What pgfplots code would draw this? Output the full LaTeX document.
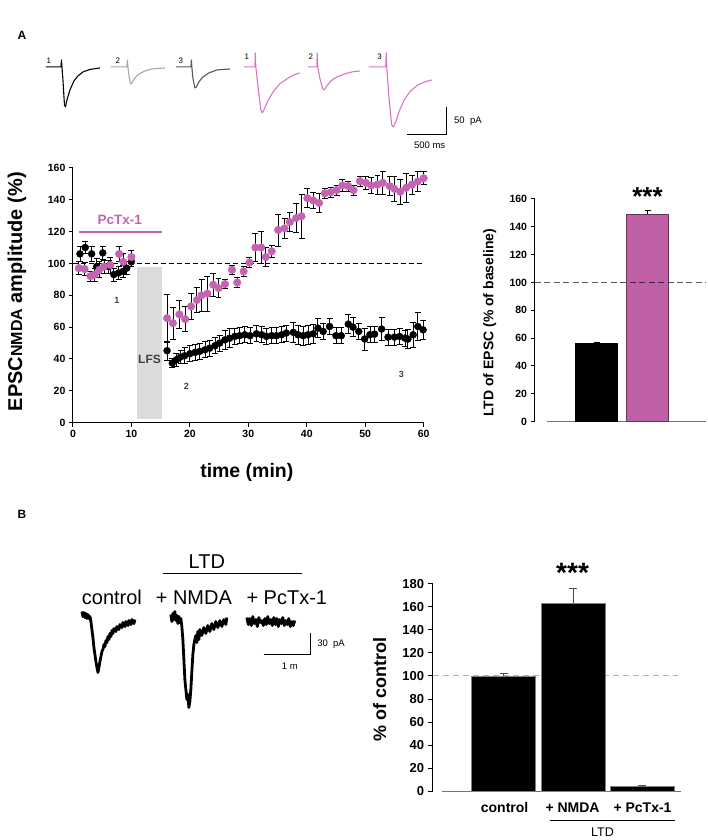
\documentclass[border=0pt]{standalone}
\usepackage{pgfplots}
\pgfplotsset{compat=1.18}
\usepackage{pgfplotstable}
\usepackage{fontspec}
\setmainfont{Liberation Sans}
\definecolor{pk}{RGB}{197,98,178}
\definecolor{pkbar}{RGB}{191,96,166}
\definecolor{pktr}{RGB}{214,118,196}

\pgfplotstableread{
t v e
1.2 106 5
2.1 110 4
3.2 106 5
4.05 98 5
5.1 106.6 4
6.1 98 4
7.0 93 4
7.8 94 4
8.6 95 4
9.2 97 4
10 101 3
16.1 45.2 6
17.0 37.4 3
17.7 39.5 4
18.4 41.2 4
19.1 42 5
20 43.3 5
20.9 44.1 5
21.7 44.8 5
22.6 45.8 5
23.4 46.8 5
24.3 48.3 5
25.1 50 5
26 52 6
26.8 53 6
27.7 54.2 5
28.5 54.6 5
29.4 55.2 5
30.3 54.6 5
31.4 55.8 5
32.3 55.2 5
33.1 54.2 5
34 54.6 5
34.8 54.6 5
35.7 55.2 5
36.5 56.3 5
37.7 56.7 6
38.5 55.2 6
39.4 54.6 6
40.2 55.2 6
41.1 55.8 6
41.9 59.4 6
42.8 57.3 5
43.9 60.4 5
45 54.6 5
45.9 54.6 5
47.1 61.9 6
47.9 60 6
48.9 57.3 5
49.9 52.5 7
50.8 55.2 5
51.6 55.6 5
52.8 58.8 7
53.9 53.7 5
55 53.7 5
55.9 54.1 5
56.8 53.1 5
57.3 52.5 6
58.2 55.2 8
59 60.4 9
59.9 58.3 6
}\blackdata

\pgfplotstableread{
t v e
1.0 97 4
2.0 96.5 4
3.0 92 3
3.7 93 4
4.5 96 5
5.3 98 4
6.4 99 5
7.9 106 5
8.6 101 5
10 104 4
16.1 65.6 15
17.1 62.5 10
18.2 68 9
19.2 65 8
20.2 73 8
21.2 77 8
22 80 10
23 81 11
24 86.6 7
24.9 84.5 6
26 87 3
27.2 96 3
28.1 88 3
29.2 95 3
30.2 100.6 3
31.2 110 9
32.2 110 10
33 104 6
34 107.6 4
35.1 121 10
36.2 122 6
37.1 126 6
38.2 128.5 9
39.1 129.6 14
40.1 141 6
41.1 139.5 5
42.1 138 6
43.1 144 3
44.1 144.7 3
45.1 146 3
46.1 149 4
47.1 148.5 3
48 146 3
49.1 151.6 3
50.1 150.6 4
51 149 5
52.1 149.5 6
53 150.6 7
54.2 148.5 6
55 146.8 8
56 145 8
57 147.5 9
58 149.5 6
59 151.5 6
60 153.5 4
}\pinkdata

\begin{document}
\begin{tikzpicture}

% ---------- overlay axis in pixel coordinates (traces, labels) ----------
\begin{axis}[at={(0pt,0pt)}, anchor=south west, scale only axis, width=708pt, height=840pt,
  xmin=0, xmax=708, ymin=0, ymax=840, y dir=reverse, hide axis, clip=false]
% Panel A traces
\addplot[black, line width=1.1pt, line join=round] coordinates {(46,67) (61,67) (61.5,60) (62,67) (63,80) (64.5,105) (65.5,107) (67,100) (70,90) (74,81) (78,76) (83,72) (90,69.5) (100,68)};
\addplot[black!35, line width=1.1pt, line join=round] coordinates {(111,67) (127,67) (127.5,60) (128,67) (129,75) (130.5,84) (132,83) (135,78) (139,74) (145,71) (152,69) (165,68)};
\addplot[black!65, line width=1.1pt, line join=round] coordinates {(176,67) (191,67) (191.5,60) (192,67) (193,78) (195,88) (196.5,87) (199,82) (203,77) (209,73) (217,70) (230,69)};
\addplot[pktr, line width=1.1pt, line join=round] coordinates {(244,67) (255,67) (255.5,53) (256,67) (258,85) (261,110) (262.5,113) (265,108) (269,99) (274,91) (280,84) (287,79) (294,75) (300,73)};
\addplot[pktr, line width=1.1pt, line join=round] coordinates {(308,67) (317,67) (317.5,53) (318,67) (320,78) (323,89) (324.5,90) (327,86) (331,81) (337,77) (345,74) (352,72) (360,71)};
\addplot[pktr, line width=1.1pt, line join=round] coordinates {(369,67) (386,67) (386.5,53) (387,67) (389,95) (392,125) (393.5,127) (396,122) (400,110) (405,99) (411,91) (418,85) (425,82) (432,80)};
% scale bar A
\addplot[black, line width=1.1pt] coordinates {(407,135) (447,135) (447,107)};
% Panel B traces
\addplot[black, line width=2.8pt, line join=round] coordinates {(82,612)(83,617)(84,613)(85,618)(86,614)(87,619)(88,615)(89,619)(90,617)(91,622)(92,630)(93,638)(94,648)(95,655)(96,662)(97,668)(98,673)(99,668)(100,662)(101,657)(102,652)(103,650)(104,645)(105,647)(106,641)(107,643)(108,637)(109,640)(110,634)(111,637)(112,631)(113,634)(114,629)(116,632)(117,627)(119,630)(120,625)(122,628)(123,623)(125,627)(126,622)(128,626)(129,621)(131,625)(132,620)(134,624)(135,620)};
\addplot[black, line width=2.8pt, line join=round] coordinates {(171,615)(172,622)(173,614)(174,620)(175,612)(176,621)(177,616)(178,624)(179,617)(180,623)(181,619)(182,627)(183,640)(184,660)(185,680)(186,690)(187,700)(188,695)(189,708)(190,702)(191,690)(192,672)(193,655)(194,645)(195,640)(196,636)(197,643)(198,632)(199,640)(200,630)(202,636)(204,628)(206,634)(208,626)(210,632)(212,624)(214,630)(216,622)(218,628)(220,621)(222,627)(224,620)(226,625)(227,618)};
\addplot[black, line width=2.8pt, line join=round] coordinates {(247,618)(248.5,625)(250,619)(251.5,626)(253,617)(254.5,624)(256,620)(257.5,627)(259,618)(260.5,623)(262,621)(263.5,626)(265,619)(266.5,625)(268,617)(269.5,624)(271,620)(272.5,626)(274,618)(275.5,625)(277,619)(278.5,627)(280,620)(281.5,624)(283,618)(284.5,626)(286,621)(287.5,625)(289,619)(290.5,627)(292,622)(293.5,626)(295,621)};
% scale bar B
\addplot[black, line width=1.1pt] coordinates {(264,655) (311,655) (311,633)};
% LTD lines
\addplot[black, line width=1.1pt] coordinates {(163,574) (302,574)};
\addplot[black, line width=1.1pt] coordinates {(550,821) (675,821)};

% labels
\node[font=\bfseries\fontsize{12}{14}\selectfont] at (axis cs:22,35) {A};
\node[font=\bfseries\fontsize{12}{14}\selectfont] at (axis cs:22,515) {B};
\node[font=\fontsize{8}{9}\selectfont] at (axis cs:49,61) {1};
\node[font=\fontsize{8}{9}\selectfont] at (axis cs:118,61) {2};
\node[font=\fontsize{8}{9}\selectfont] at (axis cs:181,61) {3};
\node[font=\fontsize{8}{9}\selectfont] at (axis cs:247,57) {1};
\node[font=\fontsize{8}{9}\selectfont] at (axis cs:311,57) {2};
\node[font=\fontsize{8}{9}\selectfont] at (axis cs:380,57) {3};
\node[font=\fontsize{9.5}{11}\selectfont, anchor=west] at (axis cs:451,121) {50\ \ pA};
\node[font=\fontsize{9.5}{11}\selectfont] at (axis cs:430,145) {500 ms};
\node[font=\bfseries\fontsize{20}{22}\selectfont, rotate=90] at (axis cs:17,292) {EPSC{\fontsize{16}{18}\selectfont NMDA} amplitude (\%)};
\node[font=\bfseries\fontsize{19.5}{22}\selectfont] at (axis cs:247,473) {time (min)};
\node[font=\bfseries\fontsize{14}{16}\selectfont, rotate=90] at (axis cs:490,323) {LTD of EPSC (\% of baseline)};
\node[font=\bfseries\fontsize{26}{28}\selectfont] at (axis cs:648,197) {***};
% Panel B labels
\node[font=\fontsize{20}{22}\selectfont] at (axis cs:112,598) {control};
\node[font=\fontsize{20}{22}\selectfont] at (axis cs:194,598) {+ NMDA};
\node[font=\fontsize{20}{22}\selectfont] at (axis cs:287,598) {+ PcTx-1};
\node[font=\fontsize{20}{22}\selectfont] at (axis cs:207,562) {LTD};
\node[font=\fontsize{9.5}{11}\selectfont, anchor=west] at (axis cs:314,645) {30\ \ pA};
\node[font=\fontsize{9.5}{11}\selectfont] at (axis cs:290,667) {1 m};
\node[font=\bfseries\fontsize{18}{20}\selectfont, rotate=90] at (axis cs:380,690) {\% of control};
\node[font=\bfseries\fontsize{28}{30}\selectfont] at (axis cs:573,573) {***};
\node[font=\bfseries\fontsize{14}{16}\selectfont] at (axis cs:505,808) {control};
\node[font=\bfseries\fontsize{14}{16}\selectfont] at (axis cs:573,808) {+ NMDA};
\node[font=\bfseries\fontsize{14}{16}\selectfont] at (axis cs:643,808) {+ PcTx-1};
\node[font=\fontsize{12.5}{14}\selectfont] at (axis cs:603,833) {LTD};
\end{axis}

% ---------- time course ----------
\begin{axis}[at={(73pt,417pt)}, anchor=south west, scale only axis, width=351pt, height=255pt,
  xmin=0, xmax=60, ymin=0, ymax=160, axis lines=left, axis line style={-, line width=1.1pt},
  tick align=outside, major tick length=4pt, tick style={line width=1pt, black},
  xtick={0,10,...,60}, ytick={0,20,...,160},
  /pgf/number format/assume math mode=true,
  ticklabel style={font=\bfseries\fontsize{10.5}{12}\selectfont},
  clip=false]
\fill[black!14] (axis cs:11,2.5) rectangle (axis cs:15.2,98);
\draw[draw=pk, line width=2pt] (axis cs:1,120) -- (axis cs:15.2,120);
\draw[black, line width=0.8pt, dash pattern=on 5pt off 3pt] (axis cs:0,100) -- (axis cs:60,100);
\node[pk, font=\bfseries\fontsize{13.5}{15}\selectfont] at (axis cs:8,127) {PcTx-1};
\node[black!75, font=\bfseries\fontsize{12}{14}\selectfont] at (axis cs:13.1,40) {LFS};
\node[black!75, font=\bfseries\fontsize{9}{10}\selectfont] at (axis cs:7.5,77) {1};
\node[black!75, font=\bfseries\fontsize{9}{10}\selectfont] at (axis cs:19.4,23) {2};
\node[black!75, font=\bfseries\fontsize{9}{10}\selectfont] at (axis cs:56.2,30) {3};
\addplot[only marks, mark=*, mark size=3.5pt, black, mark options={fill=black},
  error bars/.cd, y dir=both, y explicit,
  error bar style={line width=0.8pt, black},
  error mark options={rotate=90, mark size=3pt, line width=0.8pt, black}]
  table[x=t, y=v, y error=e] {\blackdata};
\addplot[only marks, mark=*, mark size=3.8pt, pk, mark options={fill=pk, draw=pk},
  error bars/.cd, y dir=both, y explicit,
  error bar style={line width=0.8pt, black},
  error mark options={rotate=90, mark size=3pt, line width=0.8pt, black}]
  table[x=t, y=v, y error=e] {\pinkdata};
\end{axis}

% ---------- bar chart A ----------
\begin{axis}[at={(535pt,418pt)}, anchor=south west, scale only axis, width=172pt, height=223pt,
  xmin=535, xmax=707, ymin=0, ymax=160, axis y line=left, axis x line=none,
  axis line style={-, line width=1pt},
  tick align=outside, major tick length=4pt, tick style={line width=1pt, black},
  ytick={0,20,...,160}, xtick=\empty,
  /pgf/number format/assume math mode=true,
  yticklabel style={font=\bfseries\fontsize{10.5}{12}\selectfont},
  clip=false]
\draw[black!55, line width=1.2pt] (axis cs:547,0) -- (axis cs:707,0);
\addplot[ybar, bar width=42pt, bar shift=0pt, fill=black, draw=black,
  error bars/.cd, y dir=plus, y explicit, error bar style={line width=0.8pt, black},
  error mark options={rotate=90, mark size=3pt, line width=0.8pt, black}]
  coordinates {(597,56) +- (0,1)};
\addplot[ybar, bar width=42pt, bar shift=0pt, fill=pkbar, draw=pkbar!55!black, line width=0.8pt,
  error bars/.cd, y dir=plus, y explicit, error bar style={line width=0.8pt, black},
  error mark options={rotate=90, mark size=3pt, line width=0.8pt, black}]
  coordinates {(648,149) +- (0,3)};
\draw[black, opacity=0.65, line width=0.8pt, dash pattern=on 6pt off 3.5pt] (axis cs:535,100) -- (axis cs:707,100);
\end{axis}

% ---------- bar chart B ----------
\begin{axis}[at={(433pt,48pt)}, anchor=south west, scale only axis, width=249pt, height=208pt,
  xmin=433, xmax=682, ymin=0, ymax=180, axis y line=left, axis x line=none,
  axis line style={-, line width=0.9pt},
  tick align=outside, major tick length=5pt, tick style={line width=0.9pt, black},
  ytick={0,20,...,180}, xtick=\empty,
  /pgf/number format/assume math mode=true,
  yticklabel style={font=\bfseries\fontsize{13}{15}\selectfont},
  clip=false]
\draw[black!30, line width=0.9pt, dash pattern=on 6pt off 4pt] (axis cs:433,100) -- (axis cs:682,100);
\draw[black!55, line width=1.1pt] (axis cs:442,0) -- (axis cs:682,0);
\addplot[ybar, bar width=64pt, bar shift=0pt, fill=black, draw=black!50, line width=0.6pt,
  error bars/.cd, y dir=plus, y explicit, error bar style={line width=0.8pt, black!70},
  error mark options={rotate=90, mark size=4pt, line width=0.8pt, black!70}]
  coordinates {(504,100) +- (0,2)};
\addplot[ybar, bar width=64pt, bar shift=0pt, fill=black, draw=black!50, line width=0.6pt,
  error bars/.cd, y dir=plus, y explicit, error bar style={line width=0.8pt, black!70},
  error mark options={rotate=90, mark size=4pt, line width=0.8pt, black!70}]
  coordinates {(573.5,163) +- (0,13)};
\addplot[ybar, bar width=64pt, bar shift=0pt, fill=black, draw=black!50, line width=0.6pt,
  error bars/.cd, y dir=plus, y explicit, error bar style={line width=0.8pt, black!70},
  error mark options={rotate=90, mark size=4pt, line width=0.8pt, black!70}]
  coordinates {(642.5,4) +- (0,1)};
\end{axis}
\path (0pt,0pt) rectangle (708pt,840pt);
\end{tikzpicture}
\end{document}
